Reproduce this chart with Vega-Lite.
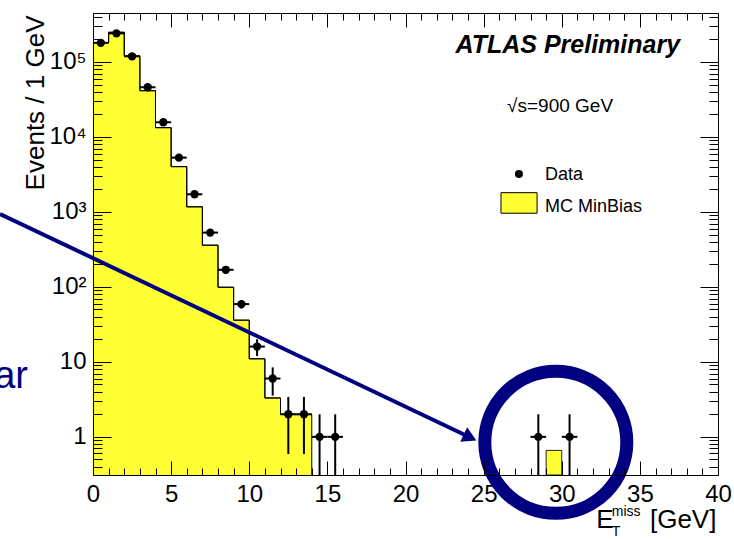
{
  "$schema": "https://vega.github.io/schema/vega-lite/v6.json",
  "width": 625,
  "height": 462,
  "autosize": {"type": "none"},
  "padding": {"left": 93, "top": 13, "right": 16, "bottom": 64},
  "background": "white",
  "config": {
    "view": {"stroke": null},
    "font": "Liberation Sans",
    "axis": {"grid": false, "labelFont": "Liberation Sans", "titleFont": "Liberation Sans", "domainColor": "black", "tickColor": "black", "labelColor": "black", "titleColor": "black", "tickWidth": 1, "domainWidth": 1}
  },
  "data": {"values": [
    {"lo": 0, "hi": 1, "c": 0.5, "mc": 181000, "n": 180000, "elo": 179576, "ehi": 180424},
    {"lo": 1, "hi": 2, "c": 1.5, "mc": 249000, "n": 241000, "elo": 240509, "ehi": 241491},
    {"lo": 2, "hi": 3, "c": 2.5, "mc": 120000, "n": 119000, "elo": 118655, "ehi": 119345},
    {"lo": 3, "hi": 4, "c": 3.5, "mc": 41400, "n": 46000, "elo": 45786, "ehi": 46214},
    {"lo": 4, "hi": 5, "c": 4.5, "mc": 13300, "n": 15700, "elo": 15575, "ehi": 15825},
    {"lo": 5, "hi": 6, "c": 5.5, "mc": 4020, "n": 5300, "elo": 5227, "ehi": 5373},
    {"lo": 6, "hi": 7, "c": 6.5, "mc": 1170, "n": 1720, "elo": 1679, "ehi": 1761},
    {"lo": 7, "hi": 8, "c": 7.5, "mc": 360, "n": 530, "elo": 507, "ehi": 553},
    {"lo": 8, "hi": 9, "c": 8.5, "mc": 99, "n": 169, "elo": 156, "ehi": 182},
    {"lo": 9, "hi": 10, "c": 9.5, "mc": 36, "n": 59, "elo": 51.3, "ehi": 66.7},
    {"lo": 10, "hi": 11, "c": 10.5, "mc": 11, "n": 16, "elo": 12, "ehi": 20},
    {"lo": 11, "hi": 12, "c": 11.5, "mc": 3.3, "n": 6, "elo": 3.55, "ehi": 8.45},
    {"lo": 12, "hi": 13, "c": 12.5, "mc": 2.0, "n": 2, "elo": 0.59, "ehi": 3.41},
    {"lo": 13, "hi": 14, "c": 13.5, "mc": 2.0, "n": 2, "elo": 0.59, "ehi": 3.41},
    {"lo": 14, "hi": 15, "c": 14.5, "mc": null, "n": 1, "elo": 0.31, "ehi": 2},
    {"lo": 15, "hi": 16, "c": 15.5, "mc": null, "n": 1, "elo": 0.31, "ehi": 2},
    {"lo": 28, "hi": 29, "c": 28.5, "mc": null, "n": 1, "elo": 0.31, "ehi": 2},
    {"lo": 29, "hi": 30, "c": 29.5, "mc": 0.66, "n": null, "elo": null, "ehi": null},
    {"lo": 30, "hi": 31, "c": 30.5, "mc": null, "n": 1, "elo": 0.31, "ehi": 2}
  ]},
  "resolve": {"axis": {"x": "independent", "y": "independent"}},
  "layer": [
    {
      "transform": [{"filter": "datum.mc != null && datum.lo < 20"}],
      "mark": {"type": "rect", "fill": "#ffff33", "stroke": "#ffff33", "strokeWidth": 1},
      "encoding": {
        "x": {"field": "lo", "type": "quantitative",
          "scale": {"domain": [0, 40], "nice": false, "zero": false},
          "axis": {"orient": "bottom", "values": [0, 5, 10, 15, 20, 25, 30, 35, 40], "ticks": false, "domain": false, "labelFontSize": 24, "labelPadding": 7, "labelFlush": false, "labelOverlap": false, "labelBound": false, "title": null, "zindex": 0}},
        "x2": {"field": "hi"},
        "y": {"field": "mc", "type": "quantitative",
          "scale": {"type": "log", "domain": [0.31, 450000], "nice": false},
          "axis": {"orient": "left", "values": [1, 10, 100, 1000, 10000, 100000], "ticks": false, "domain": false,
            "labelExpr": "datum.value == 1 ? '1' : datum.value == 10 ? '10' : datum.value == 100 ? '10²' : datum.value == 1000 ? '10³' : datum.value == 10000 ? '10⁴' : '10⁵'",
            "labelFontSize": 24, "labelPadding": 7, "labelOverlap": false, "labelBound": false, "labelFlush": false,
            "title": "Events / 1 GeV", "titleFontSize": 26, "titleFontWeight": "normal", "titleAngle": 270, "titleAlign": "right", "titleBaseline": "alphabetic", "titleX": -50, "titleY": 2, "zindex": 0}},
        "y2": {"datum": 0.31}
      }
    },
    {
      "transform": [{"filter": "datum.mc != null && datum.lo > 20"}],
      "mark": {"type": "rect", "fill": "#ffff33", "stroke": "#222222", "strokeWidth": 1},
      "encoding": {
        "x": {"field": "lo", "type": "quantitative", "axis": null},
        "x2": {"field": "hi"},
        "y": {"field": "mc", "type": "quantitative", "axis": null},
        "y2": {"datum": 0.31}
      }
    },
    {
      "transform": [{"filter": "datum.mc != null && datum.lo < 20"}],
      "mark": {"type": "line", "interpolate": "step-after", "color": "black", "strokeWidth": 1},
      "encoding": {
        "x": {"field": "lo", "type": "quantitative", "axis": null},
        "y": {"field": "mc", "type": "quantitative", "axis": null}
      }
    },
    {
      "transform": [{"filter": "datum.mc != null && datum.lo < 20"}],
      "mark": {"type": "line", "interpolate": "step-before", "color": "black", "strokeWidth": 1},
      "encoding": {
        "x": {"field": "hi", "type": "quantitative", "axis": null},
        "y": {"field": "mc", "type": "quantitative", "axis": null}
      }
    },
    {
      "transform": [{"filter": "datum.lo == 13"}],
      "mark": {"type": "rule", "color": "black", "strokeWidth": 1},
      "encoding": {
        "x": {"field": "hi", "type": "quantitative", "axis": null},
        "y": {"field": "mc", "type": "quantitative", "axis": null},
        "y2": {"datum": 0.31}
      }
    },
    {
      "transform": [{"filter": "datum.n != null"}],
      "mark": {"type": "rule", "color": "black", "strokeWidth": 2},
      "encoding": {
        "x": {"field": "lo", "type": "quantitative", "axis": null},
        "x2": {"field": "hi"},
        "y": {"field": "n", "type": "quantitative", "axis": null}
      }
    },
    {
      "transform": [{"filter": "datum.n != null"}],
      "mark": {"type": "rule", "color": "black", "strokeWidth": 2},
      "encoding": {
        "x": {"field": "c", "type": "quantitative", "axis": null},
        "y": {"field": "elo", "type": "quantitative", "axis": null},
        "y2": {"field": "ehi"}
      }
    },
    {
      "transform": [{"filter": "datum.n != null"}],
      "mark": {"type": "point", "shape": "circle", "filled": true, "color": "black", "size": 70, "opacity": 1},
      "encoding": {
        "x": {"field": "c", "type": "quantitative", "axis": null},
        "y": {"field": "n", "type": "quantitative", "axis": null}
      }
    },
    {
      "transform": [{"filter": "datum.mc != null"}],
      "mark": {"type": "point", "opacity": 0},
      "encoding": {
        "x": {"field": "lo", "type": "quantitative", "axis": {"orient": "bottom", "values": [0, 5, 10, 15, 20, 25, 30, 35, 40], "labels": false, "tickSize": -14, "domain": true, "title": null, "zindex": 1}},
        "y": {"field": "mc", "type": "quantitative", "axis": {"orient": "left", "values": [1, 10, 100, 1000, 10000, 100000], "labels": false, "tickSize": -18, "domain": true, "title": null, "zindex": 1}}
      }
    },
    {
      "transform": [{"filter": "datum.mc != null"}],
      "mark": {"type": "point", "opacity": 0},
      "encoding": {
        "x": {"field": "lo", "type": "quantitative", "axis": {"orient": "bottom", "values": [1,2,3,4,6,7,8,9,11,12,13,14,16,17,18,19,21,22,23,24,26,27,28,29,31,32,33,34,36,37,38,39], "labels": false, "tickSize": -7, "domain": false, "title": null, "zindex": 1}},
        "y": {"field": "mc", "type": "quantitative", "axis": {"orient": "left", "values": [0.4,0.5,0.6,0.7,0.8,0.9,2,3,4,5,6,7,8,9,20,30,40,50,60,70,80,90,200,300,400,500,600,700,800,900,2000,3000,4000,5000,6000,7000,8000,9000,20000,30000,40000,50000,60000,70000,80000,90000,200000,300000,400000], "labels": false, "tickSize": -9, "domain": false, "title": null, "zindex": 1}}
      }
    },
    {
      "transform": [{"filter": "datum.mc != null"}],
      "mark": {"type": "point", "opacity": 0},
      "encoding": {
        "x": {"field": "lo", "type": "quantitative", "axis": {"orient": "top", "values": [0, 5, 10, 15, 20, 25, 30, 35, 40], "labels": false, "tickSize": -14, "domain": true, "title": null, "zindex": 1}},
        "y": {"field": "mc", "type": "quantitative", "axis": {"orient": "right", "values": [1, 10, 100, 1000, 10000, 100000], "labels": false, "tickSize": -18, "domain": true, "title": null, "zindex": 1}}
      }
    },
    {
      "transform": [{"filter": "datum.mc != null"}],
      "mark": {"type": "point", "opacity": 0},
      "encoding": {
        "x": {"field": "lo", "type": "quantitative", "axis": {"orient": "top", "values": [1,2,3,4,6,7,8,9,11,12,13,14,16,17,18,19,21,22,23,24,26,27,28,29,31,32,33,34,36,37,38,39], "labels": false, "tickSize": -7, "domain": false, "title": null, "zindex": 1}},
        "y": {"field": "mc", "type": "quantitative", "axis": {"orient": "right", "values": [0.4,0.5,0.6,0.7,0.8,0.9,2,3,4,5,6,7,8,9,20,30,40,50,60,70,80,90,200,300,400,500,600,700,800,900,2000,3000,4000,5000,6000,7000,8000,9000,20000,30000,40000,50000,60000,70000,80000,90000,200000,300000,400000], "labels": false, "tickSize": -9, "domain": false, "title": null, "zindex": 1}}
      }
    },
    {
      "data": {"values": [{}]},
      "mark": {"type": "text", "text": "ATLAS Preliminary", "font": "Liberation Sans", "fontSize": 25, "fontWeight": "bold", "fontStyle": "italic", "align": "left", "baseline": "alphabetic", "color": "black"},
      "encoding": {"x": {"datum": 23.2, "type": "quantitative", "axis": null}, "y": {"datum": 130600, "type": "quantitative", "axis": null}}
    },
    {
      "data": {"values": [{}]},
      "mark": {"type": "text", "text": "√s=900 GeV", "font": "Liberation Sans", "fontSize": 19, "align": "left", "baseline": "alphabetic", "color": "black"},
      "encoding": {"x": {"datum": 26.5, "type": "quantitative", "axis": null}, "y": {"datum": 21740, "type": "quantitative", "axis": null}}
    },
    {
      "data": {"values": [{}]},
      "mark": {"type": "point", "shape": "circle", "filled": true, "color": "black", "size": 64, "opacity": 1},
      "encoding": {"x": {"datum": 27.26, "type": "quantitative", "axis": null}, "y": {"datum": 3213, "type": "quantitative", "axis": null}}
    },
    {
      "data": {"values": [{}]},
      "mark": {"type": "text", "text": "Data", "font": "Liberation Sans", "fontSize": 18, "align": "left", "baseline": "alphabetic", "color": "black"},
      "encoding": {"x": {"datum": 28.93, "type": "quantitative", "axis": null}, "y": {"datum": 2672, "type": "quantitative", "axis": null}}
    },
    {
      "data": {"values": [{}]},
      "mark": {"type": "rect", "fill": "#ffff33", "stroke": "black", "strokeWidth": 1},
      "encoding": {"x": {"datum": 26.11, "type": "quantitative", "axis": null}, "x2": {"datum": 28.42}, "y": {"datum": 1807, "type": "quantitative", "axis": null}, "y2": {"datum": 961}}
    },
    {
      "data": {"values": [{}]},
      "mark": {"type": "text", "text": "MC MinBias", "font": "Liberation Sans", "fontSize": 18, "align": "left", "baseline": "alphabetic", "color": "black"},
      "encoding": {"x": {"datum": 28.93, "type": "quantitative", "axis": null}, "y": {"datum": 1009, "type": "quantitative", "axis": null}}
    },
    {
      "data": {"values": [{}]},
      "mark": {"type": "text", "text": "E", "font": "Liberation Sans", "fontSize": 26, "align": "left", "baseline": "alphabetic", "color": "black"},
      "encoding": {"x": {"datum": 32.2, "type": "quantitative", "axis": null}, "y": {"datum": 0.0612, "type": "quantitative", "axis": null}}
    },
    {
      "data": {"values": [{}]},
      "mark": {"type": "text", "text": "miss", "font": "Liberation Sans", "fontSize": 14, "align": "left", "baseline": "alphabetic", "color": "black"},
      "encoding": {"x": {"datum": 33.2, "type": "quantitative", "axis": null}, "y": {"datum": 0.0885, "type": "quantitative", "axis": null}}
    },
    {
      "data": {"values": [{}]},
      "mark": {"type": "text", "text": "T", "font": "Liberation Sans", "fontSize": 14, "align": "left", "baseline": "alphabetic", "color": "black"},
      "encoding": {"x": {"datum": 33.2, "type": "quantitative", "axis": null}, "y": {"datum": 0.047, "type": "quantitative", "axis": null}}
    },
    {
      "data": {"values": [{}]},
      "mark": {"type": "text", "text": "[GeV]", "font": "Liberation Sans", "fontSize": 26, "align": "right", "baseline": "alphabetic", "color": "black"},
      "encoding": {"x": {"datum": 39.9, "type": "quantitative", "axis": null}, "y": {"datum": 0.0612, "type": "quantitative", "axis": null}}
    },
    {
      "data": {"values": [{}]},
      "mark": {"type": "text", "text": "ar", "font": "Liberation Sans", "fontSize": 38, "align": "right", "baseline": "alphabetic", "color": "#000080"},
      "encoding": {"x": {"datum": -4.16, "type": "quantitative", "axis": null}, "y": {"datum": 4.46, "type": "quantitative", "axis": null}}
    },
    {
      "data": {"values": [{}]},
      "mark": {"type": "rule", "color": "#000080", "strokeWidth": 4},
      "encoding": {"x": {"datum": -5.95, "type": "quantitative", "axis": null}, "y": {"datum": 940, "type": "quantitative", "axis": null}, "x2": {"datum": 23.81}, "y2": {"datum": 1.06}}
    },
    {
      "data": {"values": [{}]},
      "mark": {"type": "point", "shape": "triangle-right", "filled": true, "color": "#000080", "size": 260, "angle": 25.4, "opacity": 1},
      "encoding": {"x": {"datum": 24.13, "type": "quantitative", "axis": null}, "y": {"datum": 0.979, "type": "quantitative", "axis": null}}
    },
    {
      "data": {"values": [{}]},
      "mark": {"type": "point", "shape": "circle", "filled": false, "stroke": "#000080", "strokeWidth": 13, "size": 20164, "opacity": 1},
      "encoding": {"x": {"datum": 29.62, "type": "quantitative", "axis": null}, "y": {"datum": 0.845, "type": "quantitative", "axis": null}}
    }
  ]
}
